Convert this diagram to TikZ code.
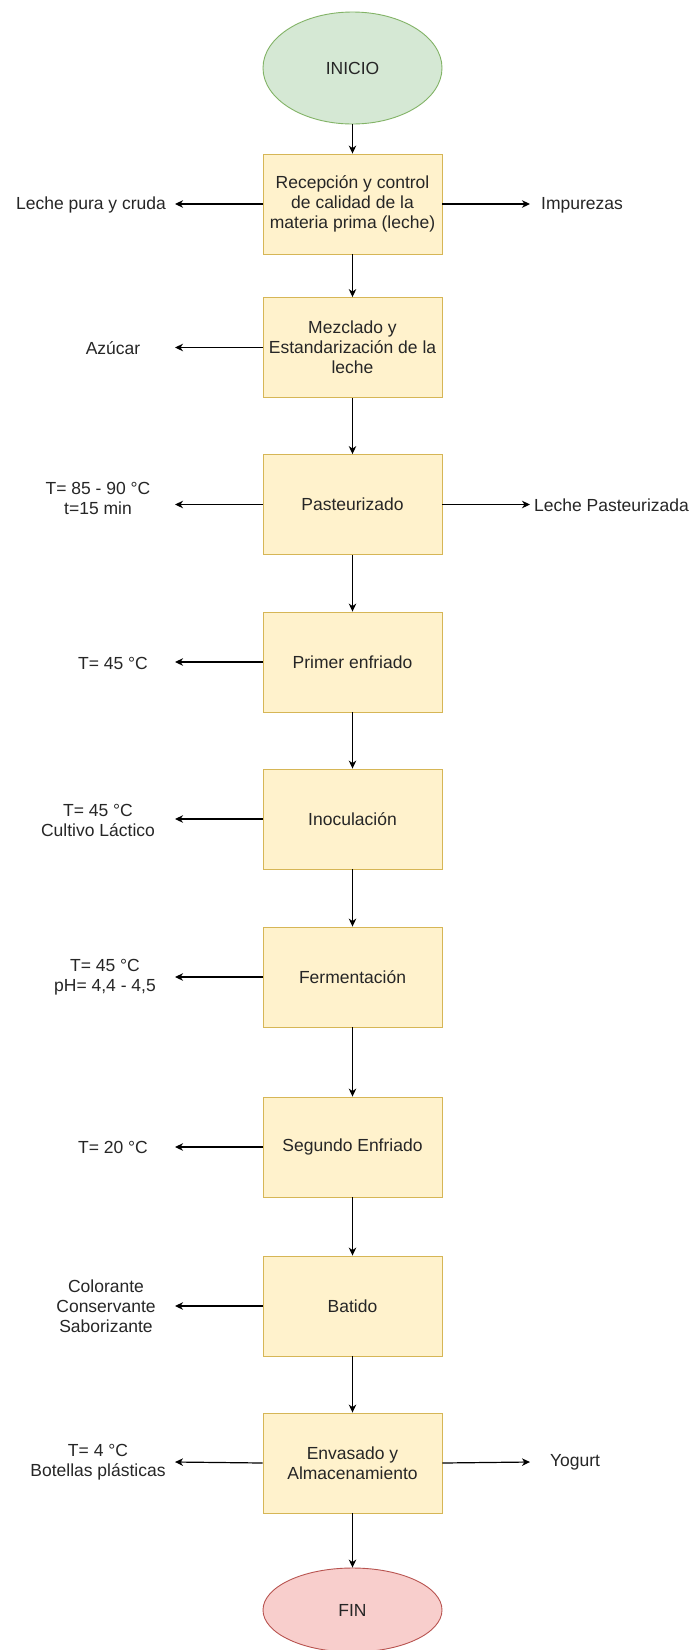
\documentclass[tikz,border=0pt]{standalone}
\usepackage{fontspec}
\setmainfont{Liberation Sans}
\usetikzlibrary{arrows.meta,shapes.geometric}
\definecolor{boxfill}{HTML}{FFF2CC}
\definecolor{boxline}{HTML}{D6B656}
\definecolor{startfill}{HTML}{D5E8D4}
\definecolor{startline}{HTML}{82B366}
\definecolor{endfill}{HTML}{F8CECC}
\definecolor{endline}{HTML}{B85450}
\definecolor{txt}{HTML}{262626}
\begin{document}
\begin{tikzpicture}[x=1pt,y=-1pt,
  every node/.style={font=\fontsize{17.5}{20}\selectfont, text=txt},
  stepbox/.style={draw=boxline, fill=boxfill, line width=0.9pt,
    minimum width=179pt, minimum height=100pt, inner sep=0pt, align=center},
  startnode/.style={ellipse, draw=startline, fill=startfill, line width=0.9pt,
    minimum width=179pt, minimum height=112pt, inner sep=0pt},
  endnode/.style={ellipse, draw=endline, fill=endfill, line width=0.9pt,
    minimum width=179pt, minimum height=84pt, inner sep=0pt},
  sidelabel/.style={align=center, inner sep=0pt},
  flow/.style={draw=black, line width=1.2pt,
    -{Stealth[length=8pt,width=7.5pt,inset=2.5pt]}}
]
% page
\fill[white] (0,0) rectangle (694,1650);
\useasboundingbox (0,0) rectangle (694,1650);

% main column
\node[startnode] (inicio) at (352.5,68) {INICIO};
\node[stepbox] (b1) at (352.5,204) {Recepción y control\\de calidad de la\\materia prima (leche)};
\node[stepbox] (b2) at (352.5,347.5) {Mezclado y\\Estandarización de la\\leche};
\node[stepbox] (b3) at (352.5,504.5) {Pasteurizado};
\node[stepbox] (b4) at (352.5,662) {Primer enfriado};
\node[stepbox] (b5) at (352.5,819) {Inoculación};
\node[stepbox] (b6) at (352.5,977) {Fermentación};
\node[stepbox] (b7) at (352.5,1147) {Segundo Enfriado};
\node[stepbox] (b8) at (352.5,1306) {Batido};
\node[stepbox] (b9) at (352.5,1463) {Envasado y\\Almacenamiento};
\node[endnode] (fin) at (352.5,1610) {FIN};

\draw[flow] (inicio) -- (b1);
\draw[flow] (b1) -- (b2);
\draw[flow] (b2) -- (b3);
\draw[flow] (b3) -- (b4);
\draw[flow] (b4) -- (b5);
\draw[flow] (b5) -- (b6);
\draw[flow] (b6) -- (b7);
\draw[flow] (b7) -- (b8);
\draw[flow] (b8) -- (b9);
\draw[flow] (b9) -- (fin);

% side arrow ends
\coordinate (e1l) at (175,204);
\coordinate (e1r) at (530,204);
\coordinate (e2l) at (175,347.5);
\coordinate (e3l) at (175,504.5);
\coordinate (e3r) at (530,504.5);
\coordinate (e4l) at (175,662);
\coordinate (e5l) at (175,819);
\coordinate (e6l) at (175,977);
\coordinate (e7l) at (175,1147);
\coordinate (e8l) at (175,1306);
\coordinate (e9l) at (175,1462);
\coordinate (e9r) at (530,1462);

\draw[flow] (b1.west) -- (e1l);
\draw[flow] (b1.east) -- (e1r);
\draw[flow] (b2.west) -- (e2l);
\draw[flow] (b3.west) -- (e3l);
\draw[flow] (b3.east) -- (e3r);
\draw[flow] (b4.west) -- (e4l);
\draw[flow] (b5.west) -- (e5l);
\draw[flow] (b6.west) -- (e6l);
\draw[flow] (b7.west) -- (e7l);
\draw[flow] (b8.west) -- (e8l);
\draw[flow] (b9.west) -- (e9l);
\draw[flow] (b9.east) -- (e9r);

% side labels
\node[sidelabel] (l1) at (91,205) {Leche pura y cruda};
\node[sidelabel] (l2) at (113,348) {Azúcar};
\node[sidelabel] (l3) at (98,498) {T= 85 - 90 °C\\t=15 min};
\node[sidelabel] (l4) at (113,663) {T= 45 °C};
\node[sidelabel] (l5) at (98,820) {T= 45 °C\\Cultivo Láctico};
\node[sidelabel] (l6) at (105,977) {T= 45 °C\\pH= 4,4 - 4,5};
\node[sidelabel] (l7) at (113,1147) {T= 20 °C};
\node[sidelabel] (l8) at (106,1306) {Colorante\\Conservante\\Saborizante};
\node[sidelabel] (l9) at (98,1462) {T= 4 °C\\Botellas plásticas};
\node[sidelabel] (r1) at (582,205) {Impurezas};
\node[sidelabel, anchor=west] (r3) at (534,505) {Leche Pasteurizada};
\node[sidelabel] (r9) at (575,1462) {Yogurt};
\end{tikzpicture}
\end{document}
